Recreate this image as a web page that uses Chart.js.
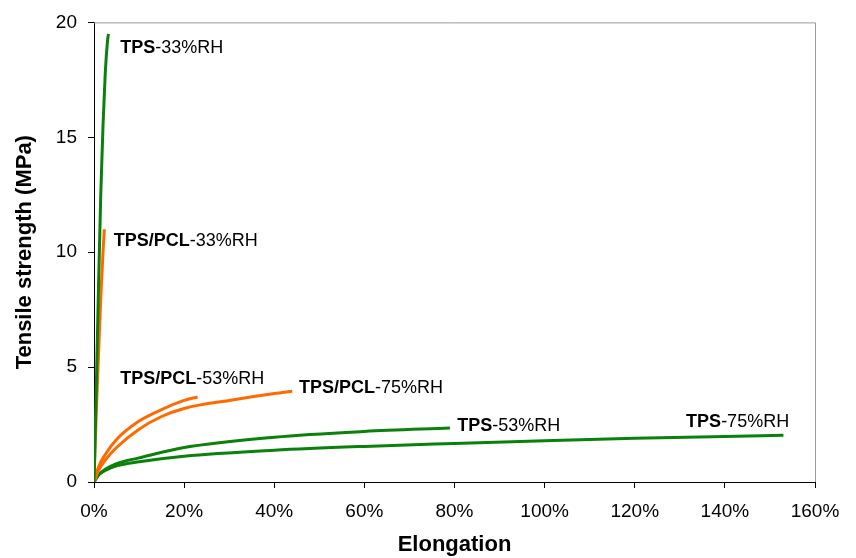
<!DOCTYPE html>
<html>
<head>
<meta charset="utf-8">
<script src="https://cdn.jsdelivr.net/npm/chart.js@4/dist/chart.umd.min.js"></script>
<style>
  html, body { margin: 0; padding: 0; background: #fff; }
  #wrap { width: 856px; height: 558px; }
</style>
</head>
<body>
<div id="wrap"><canvas id="tensileChart" width="856" height="558"></canvas></div>
<script>
// elongation (%) / tensile strength (MPa)
const tps33X = [0, 0.5, 1, 1.5, 2, 2.5, 3, 3.2];
const tps33Y = [0, 4, 8.5, 12.5, 15.5, 17.8, 19.2, 19.5];
const pcl33X = [0, 0.5, 1, 1.5, 2, 2.3];
const pcl33Y = [0, 3, 5.5, 8, 10, 11];
const pcl53X = [0, 1, 2.5, 5, 10, 15, 20, 23];
const pcl53Y = [0, 0.65, 1.2, 1.85, 2.65, 3.15, 3.55, 3.7];
const pcl75X = [0, 1, 2.5, 5, 10, 15, 20, 30, 40, 44];
const pcl75Y = [0, 0.5, 0.95, 1.5, 2.3, 2.85, 3.2, 3.55, 3.85, 3.95];
const tps53X = [0, 1, 2.5, 5, 10, 20, 40, 60, 79];
const tps53Y = [0, 0.3, 0.55, 0.8, 1.05, 1.5, 1.95, 2.2, 2.35];
const tps75X = [0, 1, 2.5, 5, 10, 20, 40, 60, 80, 100, 120, 140, 153];
const tps75Y = [0, 0.3, 0.5, 0.7, 0.88, 1.12, 1.38, 1.55, 1.68, 1.8, 1.9, 1.98, 2.03];

const xTicks = [0, 20, 40, 60, 80, 100, 120, 140, 160];
const yTicks = [0, 5, 10, 15, 20];

// curve labels: bold part, normal part, anchor in data units
const labelBold = ["TPS", "TPS/PCL", "TPS/PCL", "TPS/PCL", "TPS", "TPS"];
const labelRest = ["-33%RH", "-33%RH", "-53%RH", "-75%RH", "-53%RH", "-75%RH"];
const labelX = [5.8, 4.4, 5.8, 45.5, 80.6, 131.4];
const labelY = [18.9, 10.5, 4.47, 4.08, 2.43, 2.6];

const GREEN = "#0b800b";
const ORANGE = "#ff6a00";
const FONT = "'Liberation Sans', Arial, sans-serif";

function pts(xs, ys) {
    return xs.map((x, i) => ({ x: x, y: ys[i] }));
}

function curve(xs, ys, color) {
    return {
        data: pts(xs, ys),
        borderColor: color,
        borderWidth: 3,
        pointRadius: 0,
        fill: false,
        cubicInterpolationMode: 'monotone'
    };
}

// gray frame on top/right plus curve annotations
const extras = {
    id: 'extras',
    beforeDatasetsDraw(chart) {
        const a = chart.chartArea;
        const c = chart.ctx;
        c.save();
        c.strokeStyle = '#999';
        c.lineWidth = 1;
        c.beginPath();
        c.moveTo(a.left, a.top + 0.5);
        c.lineTo(a.right + 0.5, a.top + 0.5);
        c.lineTo(a.right + 0.5, a.bottom);
        c.stroke();
        c.restore();
    },
    afterDatasetsDraw(chart) {
        const c = chart.ctx;
        const xs = chart.scales.x, ys = chart.scales.y;
        c.save();
        c.fillStyle = '#000';
        c.textBaseline = 'middle';
        for (let i = 0; i < labelBold.length; i++) {
            const px = xs.getPixelForValue(labelX[i]);
            const py = ys.getPixelForValue(labelY[i]);
            c.font = "bold 18px " + FONT;
            c.fillText(labelBold[i], px, py);
            const w = c.measureText(labelBold[i]).width;
            c.font = "18px " + FONT;
            c.fillText(labelRest[i], px + w, py);
        }
        c.restore();
    }
};

const ctx = document.getElementById("tensileChart").getContext("2d");

new Chart(ctx, {
    type: 'line',
    data: {
        datasets: [
            curve(tps33X, tps33Y, GREEN),
            curve(pcl33X, pcl33Y, ORANGE),
            curve(pcl53X, pcl53Y, ORANGE),
            curve(pcl75X, pcl75Y, ORANGE),
            curve(tps53X, tps53Y, GREEN),
            curve(tps75X, tps75Y, GREEN)
        ]
    },
    options: {
        responsive: false,
        animation: false,
        layout: { padding: { top: 21, right: 41, left: 0, bottom: 0 } },
        plugins: {
            legend: { display: false },
            tooltip: { enabled: false }
        },
        scales: {
            x: {
                type: 'linear',
                min: 0,
                max: 160,
                afterBuildTicks(axis) { axis.ticks = xTicks.map(v => ({ value: v })); },
                afterFit(axis) { axis.height = 76; },
                ticks: {
                    color: '#000',
                    font: { family: FONT, size: 19 },
                    padding: 12,
                    maxRotation: 0,
                    callback: v => v + '%'
                },
                grid: { drawOnChartArea: false, drawTicks: true, tickLength: 6, color: '#000' },
                border: { color: '#000', width: 1 },
                title: {
                    display: true,
                    text: 'Elongation',
                    color: '#000',
                    font: { family: FONT, size: 22, weight: 'bold' },
                    padding: { top: 8, bottom: 0 }
                }
            },
            y: {
                type: 'linear',
                min: 0,
                max: 20,
                afterBuildTicks(axis) { axis.ticks = yTicks.map(v => ({ value: v })); },
                afterFit(axis) { axis.width = 94; },
                ticks: {
                    color: '#000',
                    font: { family: FONT, size: 19 },
                    padding: 11
                },
                grid: { drawOnChartArea: false, drawTicks: true, tickLength: 6, color: '#000' },
                border: { color: '#000', width: 1 },
                title: {
                    display: true,
                    text: 'Tensile strength (MPa)',
                    color: '#000',
                    font: { family: FONT, size: 22, weight: 'bold' },
                    padding: { top: 12, bottom: 0 }
                }
            }
        }
    },
    plugins: [extras]
});
</script>
</body>
</html>
